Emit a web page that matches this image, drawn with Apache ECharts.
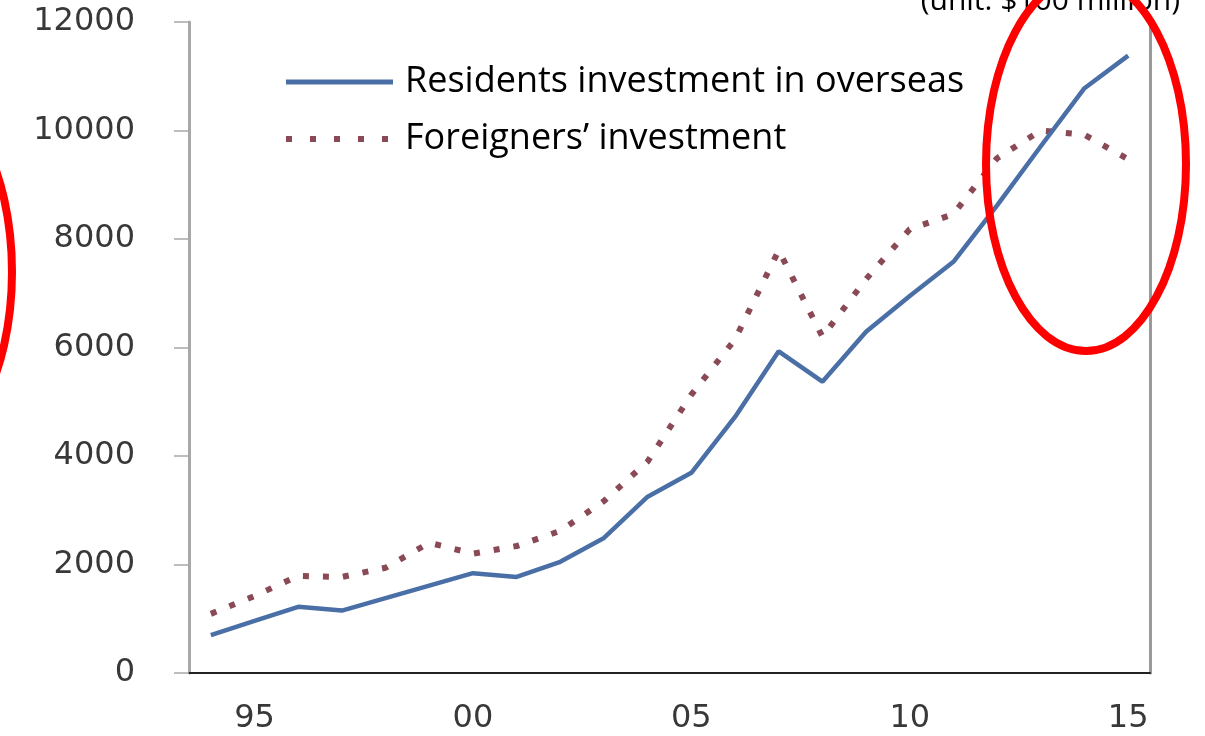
<!DOCTYPE html>
<html>
<head>
<meta charset="utf-8">
<style>
  html, body { margin: 0; padding: 0; background: #ffffff; }
  #chart { width: 1205px; height: 736px; }
</style>
<script src="https://cdn.jsdelivr.net/npm/echarts@6/dist/echarts.min.js"></script>
</head>
<body>
<div id="chart"></div>
<script>
// Years 1994 .. 2015 (two-digit labels)
const categories = ['94','95','96','97','98','99','00','01','02','03','04','05','06','07','08','09','10','11','12','13','14','15'];
const residentsName = 'Residents investment in overseas';
const foreignersName = 'Foreigners\u2019 investment';
const residents = [700, 960, 1220, 1150, 1380, 1610, 1840, 1770, 2050, 2490, 3250, 3690, 4720, 5930, 5370, 6290, 6950, 7580, 8620, 9710, 10780, 11380];
const foreigners = [1090, 1420, 1790, 1770, 1940, 2400, 2200, 2340, 2620, 3170, 3900, 5130, 6150, 7790, 6200, 7260, 8180, 8460, 9490, 10000, 9920, 9470];
const yTicks = [0, 2000, 4000, 6000, 8000, 10000, 12000];
const shownXLabels = ['95', '00', '05', '10', '15'];
const unitText = '(unit: $100 million)';

const blue = '#4a6fa6';
const red = '#8a4a55';

const chart = echarts.init(document.getElementById('chart'), null, { renderer: 'canvas' });
const labelFont = { fontFamily: 'DejaVu Sans', fontSize: 32, color: '#383838' };

chart.setOption({
  animation: false,
  backgroundColor: '#ffffff',
  grid: { left: 189, right: 55, top: 22, bottom: 63, containLabel: false },
  legend: {
    orient: 'vertical',
    left: 283,
    top: 64,
    padding: 0,
    itemGap: 21,
    itemWidth: 107,
    itemHeight: 14,
    itemStyle: { opacity: 0, borderWidth: 0 },
    textStyle: { fontFamily: 'Open Sans', fontSize: 36, lineHeight: 36, color: '#000000', padding: [0, 0, 0, 7] },
    data: [
      { name: residentsName, lineStyle: { color: blue, width: 5, opacity: 1 } },
      { name: foreignersName, lineStyle: { color: red, width: 6, type: [6, 18], cap: 'butt', opacity: 1 } }
    ]
  },
  xAxis: [
    {
      type: 'category',
      data: categories,
      boundaryGap: true,
      position: 'bottom',
      axisLine: { show: true, lineStyle: { color: '#a8a8a8', width: 2 } },
      axisTick: { show: false },
      axisLabel: Object.assign({
        margin: 30,
        interval: 0,
        formatter: function (v) { return shownXLabels.indexOf(v) >= 0 ? v : ''; }
      }, labelFont),
      splitLine: { show: false }
    },
    {
      type: 'category',
      data: categories,
      boundaryGap: true,
      position: 'top',
      axisLine: { show: true, lineStyle: { color: '#222222', width: 2 } },
      axisTick: { show: false },
      axisLabel: { show: false },
      splitLine: { show: false }
    }
  ],
  yAxis: [
    {
      type: 'value',
      min: yTicks[0],
      max: yTicks[yTicks.length - 1],
      interval: yTicks[1] - yTicks[0],
      position: 'left',
      axisLine: { show: true, lineStyle: { color: '#a8a8a8', width: 3 } },
      axisTick: { show: true, inside: false, length: 15, lineStyle: { color: '#a8a8a8', width: 1.5 } },
      axisLabel: Object.assign({ margin: 54, formatter: function (v) { return String(v); } }, labelFont),
      splitLine: { show: false }
    },
    {
      type: 'value',
      min: yTicks[0],
      max: yTicks[yTicks.length - 1],
      interval: yTicks[1] - yTicks[0],
      position: 'right',
      axisLine: { show: true, lineStyle: { color: '#9a9a9a', width: 3 } },
      axisTick: { show: false },
      axisLabel: { show: false },
      splitLine: { show: false }
    }
  ],
  series: [
    {
      name: residentsName,
      type: 'line',
      data: residents,
      xAxisIndex: 0,
      yAxisIndex: 0,
      symbol: 'none',
      smooth: false,
      lineStyle: { color: blue, width: 4.5 },
      itemStyle: { color: blue },
      z: 3
    },
    {
      name: foreignersName,
      type: 'line',
      data: foreigners,
      xAxisIndex: 0,
      yAxisIndex: 0,
      symbol: 'none',
      smooth: false,
      lineStyle: { color: red, width: 6, type: [6, 14], cap: 'butt' },
      itemStyle: { color: red },
      z: 2
    }
  ],
  graphic: [
    {
      type: 'text',
      z: 10,
      style: {
        x: 1180, y: 1,
        text: unitText,
        fontFamily: 'Open Sans', fontSize: 30,
        fill: '#000000',
        align: 'right', verticalAlign: 'middle'
      }
    },
    {
      type: 'ellipse',
      z: 20,
      shape: { cx: 1086, cy: 164, rx: 100, ry: 187 },
      style: { fill: 'none', stroke: '#ff0000', lineWidth: 8 }
    },
    {
      type: 'ellipse',
      z: 20,
      shape: { cx: -88, cy: 272, rx: 100, ry: 187 },
      style: { fill: 'none', stroke: '#ff0000', lineWidth: 8 }
    }
  ]
});
</script>
</body>
</html>
